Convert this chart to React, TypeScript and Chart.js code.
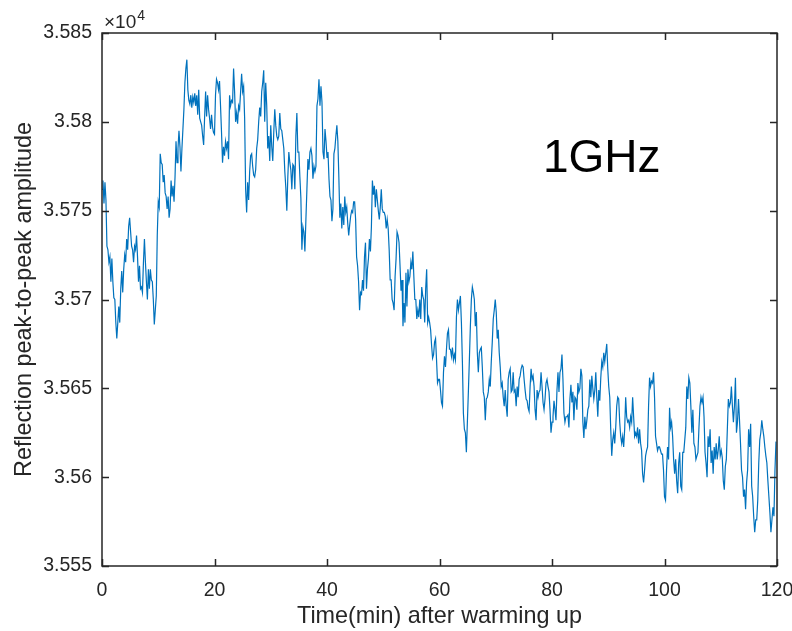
import React, { useEffect, useRef } from "react";
import { Chart, registerables } from "chart.js";

Chart.register(...registerables);

// Reflection peak-to-peak amplitude, one array per 20-minute window
const amp00to20 = [
  35762, 35767, 35754, 35766, 35756, 35730, 35728, 35721, 35724, 35710,
  35723, 35710, 35701, 35700, 35687, 35678, 35687, 35696, 35687, 35706,
  35716, 35704, 35717, 35725, 35721, 35734, 35728, 35741, 35746, 35738,
  35730, 35728, 35721, 35730, 35728, 35736, 35724, 35710, 35719, 35706,
  35707, 35704, 35721, 35734, 35721, 35710, 35700, 35717, 35706, 35717,
  35711, 35710, 35700, 35686, 35694, 35702, 35736, 35755, 35752, 35782,
  35777, 35776, 35766, 35770, 35760, 35758, 35751, 35758, 35746, 35751,
  35767, 35758, 35764, 35755, 35769, 35789, 35777, 35785, 35795, 35786,
  35772, 35785, 35796, 35807, 35822, 35830, 35835, 35818, 35812, 35810,
  35815, 35808, 35814, 35811, 35816, 35809, 35815, 35804, 35818, 35802,
  35800, 35798, 35792, 35787, 35803, 35817, 35803, 35815, 35807, 35802,
  35796, 35804, 35797, 35794,
];
const amp20to40 = [
  35793, 35815, 35824, 35822, 35818, 35823, 35809, 35794, 35777, 35786,
  35781, 35789, 35785, 35789, 35779, 35815, 35809, 35812, 35811, 35830,
  35817, 35800, 35805, 35799, 35809, 35807, 35817, 35827, 35817, 35820,
  35802, 35762, 35749, 35766, 35756, 35772, 35781, 35782, 35775, 35770,
  35769, 35773, 35785, 35790, 35800, 35808, 35803, 35817, 35822, 35829,
  35800, 35822, 35809, 35785, 35792, 35778, 35798, 35786, 35778, 35794,
  35807, 35798, 35792, 35790, 35792, 35805, 35796, 35795, 35790, 35785,
  35772, 35763, 35750, 35769, 35783, 35777, 35773, 35762, 35776, 35775,
  35762, 35792, 35805, 35783, 35783, 35769, 35757, 35728, 35741, 35738,
  35727, 35745, 35762, 35779, 35773, 35783, 35785, 35781, 35768, 35775,
  35772, 35775, 35809, 35813, 35824, 35809, 35820, 35811, 35783, 35779,
  35796, 35789,
];
const amp40to60 = [
  35780, 35783, 35768, 35758, 35756, 35744, 35751, 35782, 35785, 35792,
  35798, 35789, 35769, 35746, 35754, 35740, 35752, 35742, 35758, 35749,
  35752, 35743, 35736, 35742, 35747, 35750, 35749, 35755, 35755, 35745,
  35724, 35719, 35710, 35694, 35704, 35703, 35711, 35705, 35724, 35732,
  35706, 35717, 35723, 35734, 35727, 35741, 35767, 35759, 35764, 35752,
  35762, 35756, 35750, 35745, 35752, 35762, 35751, 35749, 35749, 35747,
  35740, 35745, 35740, 35728, 35711, 35711, 35700, 35698, 35694, 35713,
  35723, 35738, 35736, 35732, 35719, 35705, 35711, 35685, 35698, 35687,
  35715, 35696, 35717, 35710, 35713, 35721, 35717, 35727, 35713, 35700,
  35700, 35689, 35694, 35690, 35700, 35689, 35707, 35702, 35700, 35687,
  35706, 35717, 35687, 35690, 35687, 35683, 35674, 35667, 35669, 35676,
  35678, 35666, 35653, 35655,
];
const amp60to80 = [
  35655, 35649, 35642, 35640, 35659, 35668, 35662, 35672, 35681, 35683,
  35672, 35672, 35668, 35673, 35666, 35669, 35666, 35690, 35700, 35694,
  35698, 35702, 35687, 35665, 35636, 35627, 35625, 35614, 35631, 35648,
  35666, 35685, 35700, 35707, 35704, 35700, 35685, 35693, 35670, 35659,
  35670, 35672, 35673, 35662, 35648, 35645, 35632, 35644, 35645, 35648,
  35655, 35651, 35665, 35676, 35689, 35694, 35700, 35693, 35678, 35683,
  35670, 35662, 35651, 35653, 35645, 35640, 35649, 35640, 35634, 35655,
  35659, 35661, 35648, 35649, 35659, 35648, 35649, 35640, 35651, 35645,
  35655, 35657, 35661, 35663, 35662, 35655, 35649, 35644, 35643, 35639,
  35637, 35651, 35661, 35655, 35657, 35651, 35638, 35632, 35649, 35645,
  35648, 35649, 35659, 35651, 35642, 35638, 35644, 35653, 35655, 35651,
  35648, 35638, 35625,
];
const amp80to100 = [
  35631, 35634, 35643, 35638, 35632, 35649, 35659, 35648, 35659, 35661,
  35669, 35655, 35636, 35631, 35634, 35634, 35635, 35628, 35644, 35652,
  35642, 35648, 35632, 35645, 35644, 35638, 35653, 35648, 35650, 35661,
  35657, 35631, 35622, 35634, 35627, 35632, 35638, 35640, 35655, 35645,
  35657, 35650, 35644, 35649, 35659, 35645, 35634, 35649, 35643, 35656,
  35665, 35662, 35670, 35665, 35670, 35675, 35661, 35651, 35645, 35627,
  35612, 35621, 35625, 35619, 35628, 35640, 35645, 35644, 35631, 35623,
  35619, 35623, 35617, 35627, 35645, 35634, 35631, 35632, 35628, 35634,
  35631, 35645, 35634, 35623, 35625, 35623, 35628, 35619, 35627, 35619,
  35615, 35602, 35597, 35604, 35612, 35615, 35617, 35640, 35656, 35651,
  35654, 35653, 35659, 35645, 35623, 35619, 35615, 35617, 35617, 35615,
  35613, 35613, 35604,
];
const amp100to120 = [
  35589, 35587, 35604, 35617, 35610, 35639, 35628, 35631, 35623, 35610,
  35602, 35610, 35598, 35591, 35608, 35614, 35595, 35593, 35614, 35614,
  35621, 35628, 35651, 35644, 35656, 35653, 35640, 35625, 35638, 35619,
  35617, 35610, 35612, 35614, 35628, 35640, 35645, 35642, 35645, 35634,
  35614, 35608, 35600, 35623, 35617, 35627, 35608, 35615, 35602, 35617,
  35610, 35619, 35610, 35615, 35623, 35612, 35615, 35611, 35598, 35593,
  35606, 35610, 35627, 35644, 35640, 35642, 35651, 35640, 35631, 35640,
  35656, 35625, 35631, 35644, 35632, 35619, 35604, 35600, 35589, 35593,
  35582, 35597, 35604, 35627, 35617, 35630, 35595, 35589, 35578, 35569,
  35576, 35576, 35587, 35608, 35621, 35625, 35632, 35627, 35623, 35617,
  35612, 35608, 35598, 35589, 35580, 35569, 35576, 35583, 35578, 35604,
  35620,
];

const WINDOW_STARTS = [0, 20, 40, 60, 80, 100]; // minutes
const WINDOW_LENGTH = 20; // minutes
const X_MIN = 0;
const X_MAX = 120;
const X_STEP = 20;
const Y_MIN = 35550;
const Y_MAX = 35850;
const Y_STEP = 50;
const Y_EXPONENT = "4";
const X_TITLE = "Time(min) after warming up";
const Y_TITLE = "Reflection peak-to-peak amplitude";
const ANNOTATION = "1GHz";
const ANNOTATION_AT = { x: 78.4, y: 35772 };

const FONT = '"Liberation Sans", Arial, Helvetica, sans-serif';
const AXIS_COLOR = "#262626";
const LINE_COLOR = "#0072BD";

export default function App() {
  const canvasRef = useRef<HTMLCanvasElement>(null);

  useEffect(() => {
    const canvas = canvasRef.current;
    if (!canvas) return;
    const windows = [amp00to20, amp20to40, amp40to60, amp60to80, amp80to100, amp100to120];
    const points: { x: number; y: number }[] = [];
    windows.forEach((w, k) => {
      w.forEach((v, i) => {
        points.push({ x: WINDOW_STARTS[k] + (i * WINDOW_LENGTH) / w.length, y: v });
      });
    });

    const boxPlugin = {
      id: "matlabBox",
      afterDatasetsDraw(chart: any) {
        const { ctx, chartArea, scales } = chart;
        const { left, right, top, bottom } = chartArea;
        const xs = scales.x;
        const ys = scales.y;
        ctx.save();
        ctx.strokeStyle = AXIS_COLOR;
        ctx.lineWidth = 1.5;
        ctx.strokeRect(left, top, right - left, bottom - top);
        const tl = 7;
        ctx.beginPath();
        xs.ticks.forEach((t: any) => {
          const px = Math.round(xs.getPixelForValue(t.value)) + 0.5;
          ctx.moveTo(px, bottom);
          ctx.lineTo(px, bottom - tl);
          ctx.moveTo(px, top);
          ctx.lineTo(px, top + tl);
        });
        ys.ticks.forEach((t: any) => {
          const py = Math.round(ys.getPixelForValue(t.value)) + 0.5;
          ctx.moveTo(left, py);
          ctx.lineTo(left + tl, py);
          ctx.moveTo(right, py);
          ctx.lineTo(right - tl, py);
        });
        ctx.stroke();

        // exponent label
        ctx.fillStyle = AXIS_COLOR;
        ctx.textBaseline = "alphabetic";
        ctx.textAlign = "left";
        ctx.font = `19px ${FONT}`;
        const base = "\u00d710";
        ctx.fillText(base, left + 2, top - 5);
        const w = ctx.measureText(base).width;
        ctx.font = `14px ${FONT}`;
        ctx.fillText(Y_EXPONENT, left + 3 + w, top - 13);

        // annotation
        ctx.fillStyle = "#000000";
        ctx.font = `46px ${FONT}`;
        ctx.fillText(ANNOTATION, xs.getPixelForValue(ANNOTATION_AT.x), ys.getPixelForValue(ANNOTATION_AT.y));
        ctx.restore();
      },
    };

    const chart = new Chart(canvas, {
      type: "line",
      data: {
        datasets: [
          {
            data: points,
            borderColor: LINE_COLOR,
            borderWidth: 1.2,
            pointRadius: 0,
            tension: 0,
            fill: false,
          },
        ],
      },
      options: {
        responsive: false,
        animation: false,
        parsing: false as any,
        layout: { padding: { top: 33, right: 15, left: 0, bottom: 0 } },
        plugins: { legend: { display: false }, tooltip: { enabled: false } },
        scales: {
          x: {
            type: "linear",
            min: X_MIN,
            max: X_MAX,
            grid: { display: false, drawTicks: false },
            border: { display: false },
            ticks: {
              stepSize: X_STEP,
              autoSkip: false,
              maxRotation: 0,
              color: AXIS_COLOR,
              font: { family: FONT, size: 19.5 },
              padding: 13,
            },
            title: {
              display: true,
              text: X_TITLE,
              color: AXIS_COLOR,
              font: { family: FONT, size: 23.4 },
              padding: { top: 0, bottom: 0 },
            },
            afterFit(scale: any) {
              scale.height = 65;
              scale.paddingLeft = 0;
              scale.paddingRight = 0;
            },
          },
          y: {
            type: "linear",
            min: Y_MIN,
            max: Y_MAX,
            grid: { display: false, drawTicks: false },
            border: { display: false },
            ticks: {
              stepSize: Y_STEP,
              autoSkip: false,
              color: AXIS_COLOR,
              font: { family: FONT, size: 19.5 },
              padding: 10,
              callback: (v: any) => String(Number((Number(v) / 1e4).toFixed(4))),
            },
            title: {
              display: true,
              text: Y_TITLE,
              color: AXIS_COLOR,
              font: { family: FONT, size: 23.4 },
              padding: { top: 11, bottom: 0 },
            },
            afterFit(scale: any) {
              scale.width = 102;
              scale.paddingTop = 0;
              scale.paddingBottom = 0;
            },
          },
        },
      },
      plugins: [boxPlugin],
    });
    return () => chart.destroy();
  }, []);

  return (
    <div style={{ position: "absolute", left: 0, top: 0, width: 792, height: 631, background: "#fff" }}>
      <canvas ref={canvasRef} width={792} height={631} />
    </div>
  );
}
